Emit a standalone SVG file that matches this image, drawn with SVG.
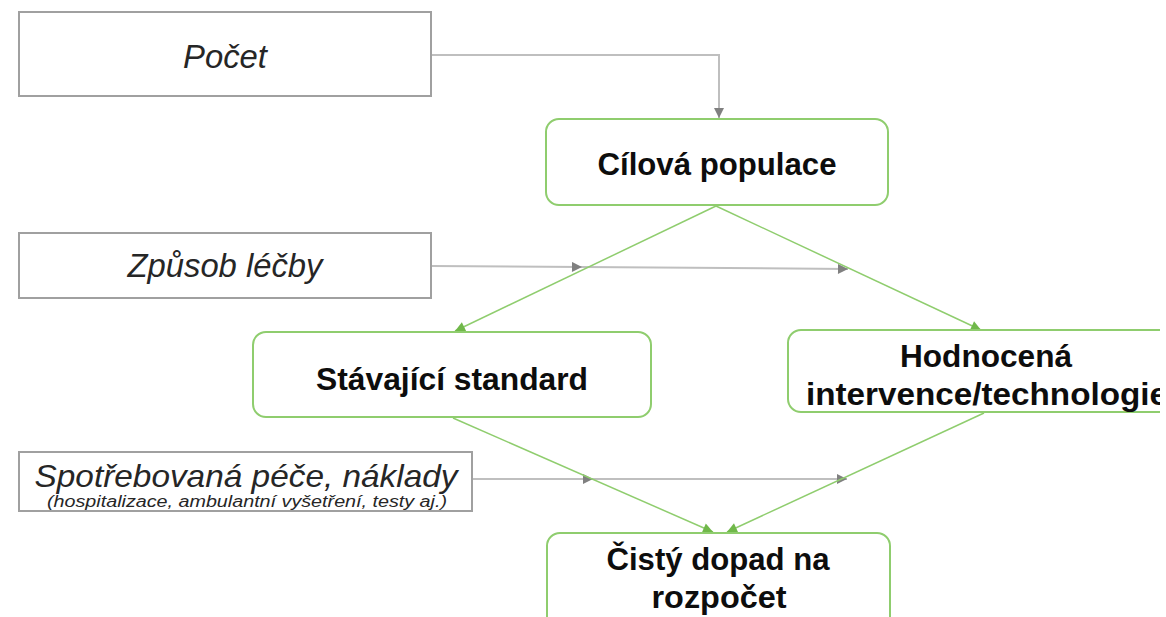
<svg xmlns="http://www.w3.org/2000/svg" width="1166" height="617" viewBox="0 0 1166 617">
<defs>
<style>
.gbox{fill:#fff;stroke:#a0a0a0;stroke-width:2}
.nbox{fill:#fff;stroke:#8fcd6e;stroke-width:2}
.it{font-family:"Liberation Sans",Arial,sans-serif;font-style:italic;fill:#262626;text-anchor:middle}
.bd{font-family:"Liberation Sans",Arial,sans-serif;font-weight:bold;fill:#0d0d0d;text-anchor:middle;font-size:32px}
.gl{stroke:#bfbfbf;stroke-width:2;fill:none}
.grl{stroke:#8fcd6e;stroke-width:1.5;fill:none}
</style>
<marker id="ag" viewBox="0 0 10 10" refX="10" refY="5" markerWidth="12" markerHeight="10" markerUnits="userSpaceOnUse" orient="auto">
<path d="M0,0 L10,5 L0,10 Z" fill="#808080"/>
</marker>
<marker id="agr" viewBox="0 0 10 10" refX="10" refY="5" markerWidth="11" markerHeight="10" markerUnits="userSpaceOnUse" orient="auto">
<path d="M0,0 L10,5 L0,10 Z" fill="#70b84a"/>
</marker>
<clipPath id="clipR"><rect x="0" y="0" width="1160" height="617"/></clipPath>
</defs>
<rect width="1166" height="617" fill="#fff"/>

<g id="connectors">
<path class="gl" d="M431,55 H719 V118" marker-end="url(#ag)"/>
<path class="gl" d="M431,266 L582,267" marker-end="url(#ag)"/>
<path class="gl" d="M582,267 L848,269" marker-end="url(#ag)"/>
<path class="gl" d="M472,479 L593,479" marker-end="url(#ag)"/>
<path class="gl" d="M593,479 L847,479" marker-end="url(#ag)"/>
<path class="grl" d="M716,206 L455,331" marker-end="url(#agr)"/>
<path class="grl" d="M716,206 L981,330" marker-end="url(#agr)"/>
<path class="grl" d="M453,418 L713,532" marker-end="url(#agr)"/>
<path class="grl" d="M984,413 L727,532" marker-end="url(#agr)"/>
</g>

<g id="pocet">
<rect class="gbox" x="19" y="12" width="412" height="84"/>
<text class="it" x="225" y="68" font-size="33" textLength="84" lengthAdjust="spacingAndGlyphs">Počet</text>
</g>

<g id="cilova">
<rect class="nbox" x="546" y="119" width="342" height="86" rx="13"/>
<text class="bd" x="717" y="175" textLength="239" lengthAdjust="spacingAndGlyphs">Cílová populace</text>
</g>

<g id="zpusob">
<rect class="gbox" x="19" y="233" width="412" height="65"/>
<text class="it" x="225" y="277" font-size="33" textLength="195" lengthAdjust="spacingAndGlyphs">Způsob léčby</text>
</g>

<g id="stavajici">
<rect class="nbox" x="253" y="332" width="398" height="85" rx="13"/>
<text class="bd" x="452" y="390" textLength="272" lengthAdjust="spacingAndGlyphs">Stávající standard</text>
</g>

<g id="hodnocena" clip-path="url(#clipR)">
<rect class="nbox" x="788" y="330" width="420" height="82" rx="13"/>
<text class="bd" x="986" y="367" textLength="172" lengthAdjust="spacingAndGlyphs">Hodnocená</text>
<text class="bd" x="987" y="405" textLength="362" lengthAdjust="spacingAndGlyphs">intervence/technologie</text>
</g>

<g id="spotreba">
<rect class="gbox" x="19" y="452" width="453" height="59"/>
<text class="it" x="246" y="487" font-size="32" textLength="423" lengthAdjust="spacingAndGlyphs">Spotřebovaná péče, náklady</text>
<text class="it" x="247" y="507" font-size="16" textLength="400" lengthAdjust="spacingAndGlyphs">(hospitalizace, ambulantní vyšetření, testy aj.)</text>
</g>

<g id="cisty">
<rect class="nbox" x="547" y="533" width="343" height="110" rx="13"/>
<text class="bd" x="718" y="570" textLength="223" lengthAdjust="spacingAndGlyphs">Čistý dopad na</text>
<text class="bd" x="719" y="608" textLength="135" lengthAdjust="spacingAndGlyphs">rozpočet</text>
</g>
</svg>
